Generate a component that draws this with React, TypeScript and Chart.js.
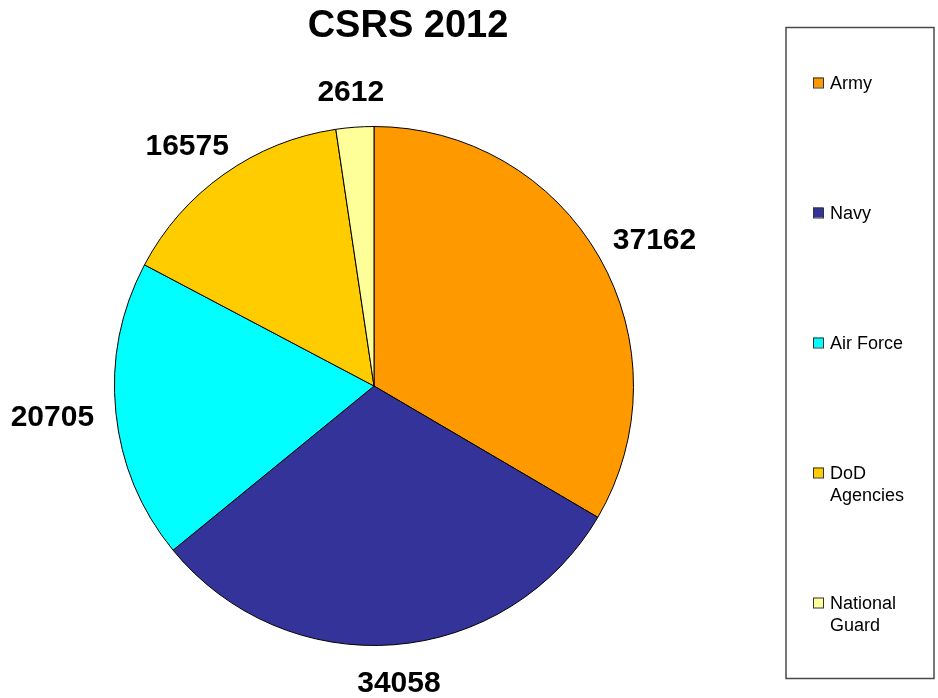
import React, { useEffect, useRef } from "react";
import { Chart, registerables } from "chart.js";

Chart.register(...registerables);

const categories = ["Army", "Navy", "Air Force", "DoD Agencies", "National Guard"];
const values = [37162, 34058, 20705, 16575, 2612];
const sliceColors = ["#FF9900", "#333399", "#00FFFF", "#FFCC00", "#FFFF99"];
const titleText = "CSRS 2012";

const FONT = "'Liberation Sans', Arial, Helvetica, sans-serif";

function wrapText(ctx: CanvasRenderingContext2D, text: string, maxW: number): string[] {
  const words = text.split(" ");
  const lines: string[] = [];
  let cur = "";
  for (const w of words) {
    const t = cur ? cur + " " + w : w;
    if (cur && ctx.measureText(t).width > maxW) {
      lines.push(cur);
      cur = w;
    } else {
      cur = t;
    }
  }
  if (cur) lines.push(cur);
  return lines;
}

const decorPlugin = {
  id: "decor",
  afterDraw(chart: any) {
    const ctx: CanvasRenderingContext2D = chart.ctx;
    const W = chart.width;
    ctx.save();

    // Title
    ctx.fillStyle = "#000";
    ctx.font = `bold 38px ${FONT}`;
    ctx.textAlign = "center";
    ctx.textBaseline = "alphabetic";
    ctx.fillText(titleText, 408, 37);

    // Data labels outside the slices
    const meta = chart.getDatasetMeta(0);
    const labelSize = 30;
    ctx.font = `bold ${labelSize}px ${FONT}`;
    meta.data.forEach((arc: any, i: number) => {
      const p = arc.getProps(["x", "y", "startAngle", "endAngle", "outerRadius"], true);
      const mid = (p.startAngle + p.endAngle) / 2;
      const dx = Math.cos(mid);
      const dy = Math.sin(mid);
      const txt = String(values[i]);
      const tw = ctx.measureText(txt).width;
      const gap = 22;
      const px = p.x + (p.outerRadius + gap) * dx;
      const py = p.y + (p.outerRadius + gap) * dy;
      const cx = px + dx * tw / 2;
      const cy = py + dy * 15;
      ctx.textAlign = "center";
      ctx.textBaseline = "alphabetic";
      ctx.fillText(txt, cx, cy + 0.358 * labelSize);
    });

    // Legend box
    const bx = 786, by = 27.5, bw = 148, bh = 651;
    ctx.strokeStyle = "#4a4a4a";
    ctx.lineWidth = 1.5;
    ctx.strokeRect(bx, by, bw, bh);

    const fs = 18;
    ctx.font = `${fs}px ${FONT}`;
    ctx.textAlign = "left";
    const firstY = by + 55;
    const step = (bh - 131) / (categories.length - 1);
    categories.forEach((c, i) => {
      const yc = firstY + step * i;
      ctx.fillStyle = sliceColors[i];
      ctx.fillRect(813, yc - 5, 10, 10);
      ctx.strokeStyle = "#333";
      ctx.lineWidth = 1;
      ctx.strokeRect(813.5, yc - 4.5, 10, 10);
      ctx.fillStyle = "#000";
      const lines = wrapText(ctx, c, 95);
      lines.forEach((ln, j) => {
        ctx.fillText(ln, 830, yc + j * 22 + 0.358 * fs);
      });
    });

    ctx.restore();
  },
};

export default function App() {
  const ref = useRef<HTMLCanvasElement | null>(null);
  useEffect(() => {
    if (!ref.current) return;
    const chart = new Chart(ref.current, {
      type: "pie",
      data: {
        labels: categories,
        datasets: [
          {
            data: values,
            backgroundColor: sliceColors,
            borderColor: "#000",
            borderWidth: 1,
            hoverOffset: 0,
          },
        ],
      },
      options: {
        responsive: false,
        animation: false,
        layout: { padding: { left: 114, right: 304, top: 126, bottom: 52 } },
        plugins: {
          legend: { display: false },
          title: { display: false },
          tooltip: { enabled: false },
        },
      },
      plugins: [decorPlugin],
    });
    return () => chart.destroy();
  }, []);
  return (
    <div style={{ position: "absolute", left: 0, top: 0, width: 938, height: 698, background: "#fff" }}>
      <canvas ref={ref} width={938} height={698} style={{ display: "block" }} />
    </div>
  );
}
